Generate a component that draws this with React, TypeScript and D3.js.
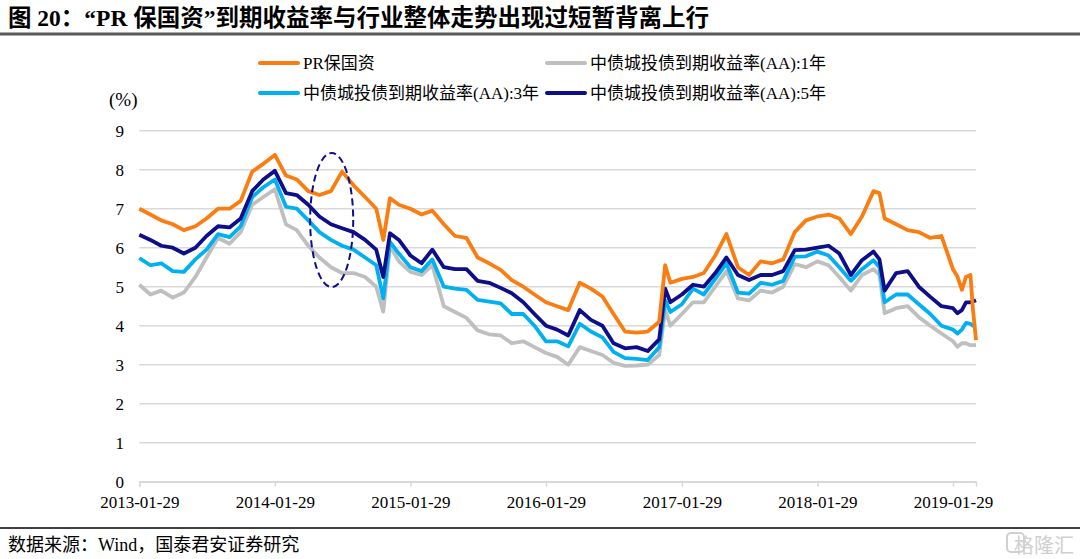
import * as d3 from "d3";
import { useEffect, useRef } from "react";

const dates = [
  "2013-01-29", "2013-02-28", "2013-03-29", "2013-04-29", "2013-05-29", "2013-06-29",
  "2013-07-29", "2013-08-29", "2013-09-29", "2013-10-29", "2013-11-29", "2013-12-29",
  "2014-01-29", "2014-02-28", "2014-03-29", "2014-04-29", "2014-05-29", "2014-06-29",
  "2014-07-29", "2014-08-29", "2014-09-29", "2014-10-29", "2014-11-17", "2014-12-05", "2014-12-29",
  "2015-01-29", "2015-02-28", "2015-03-29", "2015-04-29", "2015-05-29", "2015-06-29",
  "2015-07-29", "2015-08-29", "2015-09-29", "2015-10-29", "2015-11-29", "2015-12-29",
  "2016-01-29", "2016-02-28", "2016-03-29", "2016-04-29", "2016-05-29", "2016-06-29",
  "2016-07-29", "2016-08-29", "2016-09-29", "2016-10-29", "2016-11-29", "2016-12-15", "2016-12-29",
  "2017-01-29", "2017-02-28", "2017-03-29", "2017-04-29", "2017-05-29", "2017-06-29",
  "2017-07-29", "2017-08-29", "2017-09-29", "2017-10-29", "2017-11-29", "2017-12-29",
  "2018-01-29", "2018-02-28", "2018-03-29", "2018-04-29", "2018-05-29", "2018-06-29", "2018-07-15",
  "2018-07-29", "2018-08-29", "2018-09-29", "2018-10-29", "2018-11-29", "2018-12-29",
  "2019-01-29", "2019-02-10", "2019-02-22", "2019-03-05", "2019-03-17", "2019-03-24", "2019-04-01",
];

// PR保国资
const prValues = [
  7.0, 6.85, 6.7, 6.6, 6.45, 6.55, 6.75, 7.0, 7.0, 7.2, 7.95, 8.15,
  8.38, 7.85, 7.75, 7.45, 7.35, 7.45, 7.95, 7.6, 7.3, 7.0, 6.2, 7.27, 7.1,
  7.0, 6.85, 6.95, 6.6, 6.3, 6.25, 5.75, 5.6, 5.43, 5.17, 5.0, 4.8,
  4.6, 4.5, 4.4, 5.1, 4.95, 4.75, 4.3, 3.85, 3.82, 3.85, 4.1, 5.55, 5.1,
  5.2, 5.25, 5.35, 5.8, 6.35, 5.5, 5.3, 5.65, 5.6, 5.7, 6.4, 6.7,
  6.8, 6.85, 6.75, 6.35, 6.8, 7.45, 7.4, 6.75, 6.6, 6.45, 6.4, 6.25, 6.3,
  5.45, 5.26, 4.92, 5.25, 5.3, 4.4, 3.63,
];

// 中债城投债到期收益率(AA):1年
const aa1Values = [
  5.05, 4.8, 4.9, 4.72, 4.85, 5.25, 5.75, 6.25, 6.1, 6.4, 7.1, 7.3,
  7.5, 6.6, 6.45, 6.05, 5.75, 5.5, 5.35, 5.35, 5.25, 5.0, 4.36, 6.05, 5.65,
  5.38, 5.3, 5.55, 4.5, 4.35, 4.2, 3.88, 3.78, 3.75, 3.55, 3.6, 3.45,
  3.3, 3.2, 3.0, 3.45, 3.35, 3.25, 3.05, 2.97, 2.98, 3.0, 3.25, 4.4, 4.0,
  4.3, 4.6, 4.6, 5.0, 5.4, 4.7, 4.65, 4.9, 4.85, 5.0, 5.58, 5.5,
  5.65, 5.55, 5.25, 4.9, 5.3, 5.45, 5.3, 4.32, 4.45, 4.5, 4.22, 4.0, 3.8,
  3.6, 3.46, 3.55, 3.55, 3.5, 3.5, 3.5,
];

// 中债城投债到期收益率(AA):3年
const aa3Values = [
  5.73, 5.55, 5.6, 5.4, 5.38, 5.7, 5.95, 6.35, 6.27, 6.55, 7.3, 7.55,
  7.75, 7.05, 7.0, 6.7, 6.4, 6.2, 6.05, 5.95, 5.75, 5.55, 4.7, 6.15, 5.85,
  5.5, 5.4, 5.7, 5.0, 4.95, 4.92, 4.66, 4.62, 4.57, 4.3, 4.3, 4.0,
  3.6, 3.6, 3.47, 4.05, 3.85, 3.7, 3.33, 3.17, 3.15, 3.12, 3.45, 4.65, 4.35,
  4.55, 4.95, 4.8, 5.2, 5.6, 4.85, 4.82, 5.1, 5.05, 5.15, 5.77, 5.78,
  5.9, 5.8, 5.5, 5.15, 5.45, 5.68, 5.5, 4.6, 4.8, 4.8, 4.55, 4.3, 4.0,
  3.9, 3.8, 3.9, 4.07, 4.05, 4.0, 4.02,
];

// 中债城投债到期收益率(AA):5年
const aa5Values = [
  6.33, 6.2, 6.05, 6.0, 5.85, 6.0, 6.3, 6.55, 6.52, 6.75, 7.45, 7.75,
  7.97, 7.4, 7.35, 7.1, 6.8, 6.6, 6.5, 6.4, 6.2, 5.95, 5.25, 6.37, 6.2,
  5.8, 5.6, 5.95, 5.5, 5.45, 5.45, 5.15, 5.1, 4.97, 4.83, 4.6, 4.3,
  4.0, 3.9, 3.75, 4.4, 4.15, 4.0, 3.55, 3.42, 3.45, 3.35, 3.65, 4.95, 4.6,
  4.8, 5.05, 5.0, 5.35, 5.75, 5.3, 5.17, 5.3, 5.3, 5.4, 5.94, 5.95,
  6.0, 6.05, 5.85, 5.3, 5.68, 5.9, 5.7, 4.9, 5.35, 5.4, 5.0, 4.74, 4.5,
  4.45, 4.32, 4.4, 4.6, 4.6, 4.62, 4.65,
];

const xTicks = [
  "2013-01-29", "2014-01-29", "2015-01-29", "2016-01-29",
  "2017-01-29", "2018-01-29", "2019-01-29",
];
const yTicks = [0, 1, 2, 3, 4, 5, 6, 7, 8, 9];

const serif = "'Times New Roman', 'Liberation Serif', 'Noto Sans CJK SC', serif";

const parse = d3.timeParse("%Y-%m-%d");

function App() {
  const ref = useRef<SVGSVGElement | null>(null);

  useEffect(() => {
    const svg = d3.select(ref.current);
    svg.selectAll("*").remove();

    const x = d3
      .scaleTime()
      .domain([parse("2013-01-29")!, parse("2019-04-01")!])
      .range([139.3, 976]);
    const y = d3.scaleLinear().domain([0, 9]).range([481.7, 130.7]);

    // title
    svg
      .append("text")
      .attr("x", 8)
      .attr("y", 26)
      .attr("font-family", serif)
      .attr("font-weight", "bold")
      .attr("font-size", 23.5)
      .attr("fill", "#000")
      .text("图 20：“PR 保国资”到期收益率与行业整体走势出现过短暂背离上行");
    svg
      .append("line")
      .attr("x1", 0)
      .attr("x2", 1080)
      .attr("y1", 34)
      .attr("y2", 34)
      .attr("stroke", "#595959")
      .attr("stroke-width", 3);

    // grid
    svg
      .append("g")
      .selectAll("line")
      .data(yTicks)
      .join("line")
      .attr("x1", x.range()[0])
      .attr("x2", x.range()[1])
      .attr("y1", (d) => y(d))
      .attr("y2", (d) => y(d))
      .attr("stroke", "#D9D9D9")
      .attr("stroke-width", 1.5);

    svg
      .append("g")
      .selectAll("text")
      .data(yTicks)
      .join("text")
      .attr("x", 124)
      .attr("y", (d) => y(d))
      .attr("dy", "0.35em")
      .attr("text-anchor", "end")
      .attr("font-family", serif)
      .attr("font-size", 17)
      .text((d) => d);

    svg
      .append("text")
      .attr("x", 109)
      .attr("y", 106)
      .attr("font-family", serif)
      .attr("font-size", 19)
      .text("(%)");

    // x axis
    const xAxis = d3
      .axisBottom(x)
      .tickValues(xTicks.map((d) => parse(d)!))
      .tickFormat((d) => d3.timeFormat("%Y-%m-%d")(d as Date))
      .tickSize(5)
      .tickPadding(9);
    const gx = svg
      .append("g")
      .attr("transform", `translate(0, ${y(0)})`)
      .call(xAxis);
    gx.select(".domain").attr("stroke", "#D9D9D9").attr("stroke-width", 1.5);
    gx.selectAll(".tick line").attr("stroke", "#D9D9D9").attr("stroke-width", 1.5);
    gx.selectAll(".tick text")
      .attr("font-family", serif)
      .attr("font-size", 17)
      .attr("fill", "#000");

    // series
    const series = [
      { name: "中债城投债到期收益率(AA):1年", values: aa1Values, color: "#BFBFBF" },
      { name: "中债城投债到期收益率(AA):3年", values: aa3Values, color: "#00B0F0" },
      { name: "中债城投债到期收益率(AA):5年", values: aa5Values, color: "#0E0E8A" },
      { name: "PR保国资", values: prValues, color: "#FA7D12" },
    ];
    const line = d3
      .line<number>()
      .x((_, i) => x(parse(dates[i])!))
      .y((d) => y(d));

    svg
      .append("g")
      .selectAll("path")
      .data(series)
      .join("path")
      .attr("d", (s) => line(s.values))
      .attr("fill", "none")
      .attr("stroke", (s) => s.color)
      .attr("stroke-width", 3.8)
      .attr("stroke-linejoin", "round");

    // dashed ellipse annotation
    const cDate = parse("2014-07-01")!;
    const cVal = 6.71;
    svg
      .append("ellipse")
      .attr("cx", x(cDate))
      .attr("cy", y(cVal))
      .attr("rx", x(parse("2014-08-28")!) - x(cDate))
      .attr("ry", y(cVal - 1.72) - y(cVal))
      .attr("fill", "none")
      .attr("stroke", "#0E0E8A")
      .attr("stroke-width", 2)
      .attr("stroke-dasharray", "7,4");

    // legend
    const legend = [
      { s: series[3], lx: 260, ly: 63 },
      { s: series[0], lx: 547, ly: 63 },
      { s: series[1], lx: 260, ly: 93 },
      { s: series[2], lx: 547, ly: 93 },
    ];
    const lg = svg.append("g").selectAll("g").data(legend).join("g");
    lg.append("line")
      .attr("x1", (d) => d.lx)
      .attr("x2", (d) => d.lx + 38)
      .attr("y1", (d) => d.ly)
      .attr("y2", (d) => d.ly)
      .attr("stroke", (d) => d.s.color)
      .attr("stroke-width", 4)
      .attr("stroke-linecap", "round");
    lg.append("text")
      .attr("x", (d) => d.lx + 43)
      .attr("y", (d) => d.ly)
      .attr("dy", "0.35em")
      .attr("font-family", serif)
      .attr("font-size", 17)
      .text((d) => d.s.name);

    // footer
    svg
      .append("line")
      .attr("x1", 0)
      .attr("x2", 1080)
      .attr("y1", 528)
      .attr("y2", 528)
      .attr("stroke", "#404040")
      .attr("stroke-width", 2);
    svg
      .append("text")
      .attr("x", 8)
      .attr("y", 551)
      .attr("font-family", serif)
      .attr("font-size", 18)
      .text("数据来源：Wind，国泰君安证券研究");
    svg
      .append("text")
      .attr("x", 1074)
      .attr("y", 553)
      .attr("text-anchor", "end")
      .attr("font-family", "'Noto Sans CJK SC', sans-serif")
      .attr("font-size", 20)
      .attr("fill", "#D0D0D0")
      .text("格隆汇");
    svg
      .append("rect")
      .attr("x", 1007)
      .attr("y", 533)
      .attr("width", 17)
      .attr("height", 19)
      .attr("rx", 4)
      .attr("fill", "none")
      .attr("stroke", "#D0D0D0")
      .attr("stroke-width", 2);
  }, []);

  return (
    <svg
      ref={ref}
      width={1080}
      height={559}
      style={{ position: "absolute", left: 0, top: 0, background: "#fff" }}
    ></svg>
  );
}

export default App;
